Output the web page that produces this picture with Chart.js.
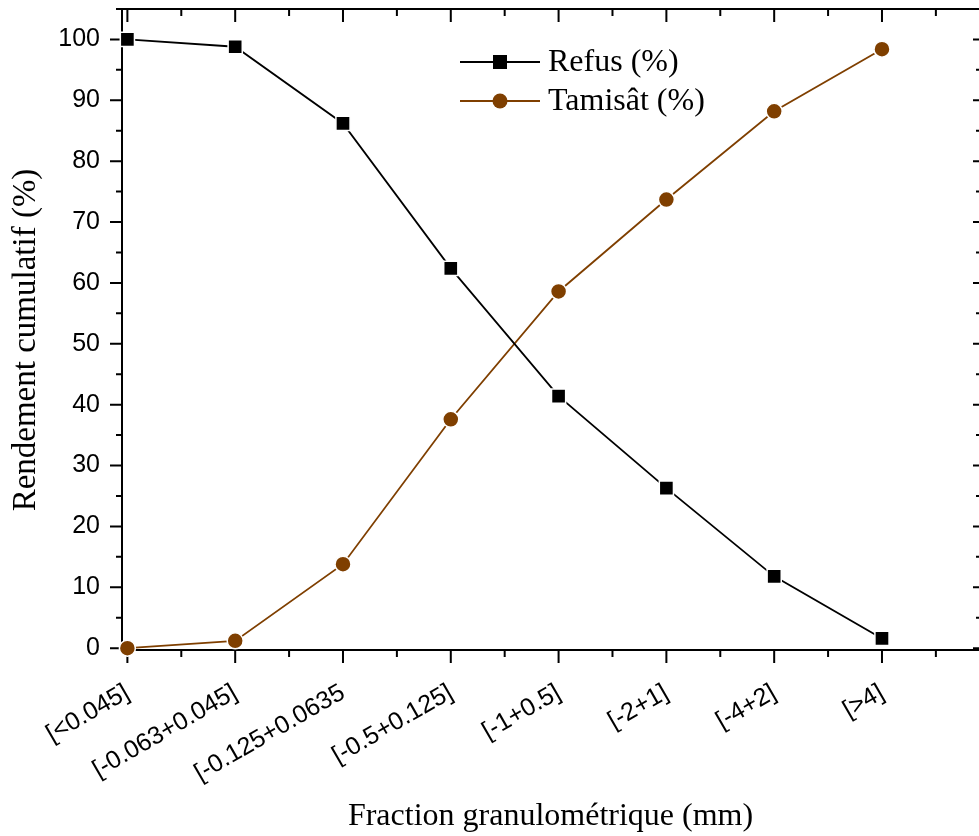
<!DOCTYPE html>
<html>
<head>
<meta charset="utf-8">
<script src="https://cdn.jsdelivr.net/npm/chart.js@4/dist/chart.umd.min.js"></script>
<style>
  body { margin: 0; background: #fff; }
</style>
</head>
<body>
<canvas id="myChart" width="979" height="836"></canvas>
<script>
// données
const categories = ['[<0.045]', '[-0.063+0.045]', '[-0.125+0.0635', '[-0.5+0.125]', '[-1+0.5]', '[-2+1]', '[-4+2]', '[>4]'];
const refus = [100, 98.8, 86.2, 62.4, 41.4, 26.3, 11.8, 1.6];
const tamisat = [0, 1.2, 13.8, 37.6, 58.6, 73.7, 88.2, 98.4];
const yTicks = [0, 10, 20, 30, 40, 50, 60, 70, 80, 90, 100];
const yMinor = [5, 15, 25, 35, 45, 55, 65, 75, 85, 95, 105];
const xMinor = [0.5, 1.5, 2.5, 3.5, 4.5, 5.5, 6.5, 7.5];

const brown = '#7f3f00';

// cadre + graduations (majeures / mineures) à la façon Origin
const axesBox = {
  id: 'axesBox',
  beforeDatasetsDraw(chart) {
    const { ctx, chartArea: a, scales: { x, y } } = chart;
    const r = a.right + 2;
    ctx.save();
    ctx.strokeStyle = '#000';
    ctx.lineWidth = 2;
    ctx.beginPath();
    ctx.moveTo(a.left, a.top); ctx.lineTo(r, a.top);
    ctx.moveTo(a.left, a.top); ctx.lineTo(a.left, a.bottom);
    ctx.moveTo(a.left, a.bottom); ctx.lineTo(r, a.bottom);
    ctx.moveTo(r, a.top); ctx.lineTo(r, a.bottom);
    // x
    categories.forEach((c, i) => {
      const px = x.getPixelForValue(i);
      ctx.moveTo(px, a.bottom); ctx.lineTo(px, a.bottom + 13);
      ctx.moveTo(px, a.top); ctx.lineTo(px, a.top + 13);
    });
    xMinor.forEach(v => {
      const px = x.getPixelForValue(v);
      ctx.moveTo(px, a.bottom); ctx.lineTo(px, a.bottom + 7);
      ctx.moveTo(px, a.top); ctx.lineTo(px, a.top + 7);
    });
    // y
    yTicks.forEach(v => {
      const py = y.getPixelForValue(v);
      ctx.moveTo(a.left, py); ctx.lineTo(a.left - 12, py);
      ctx.moveTo(r, py); ctx.lineTo(r - 8, py);
    });
    yMinor.forEach(v => {
      const py = y.getPixelForValue(v);
      if (py < a.top) return;
      ctx.moveTo(a.left, py); ctx.lineTo(a.left - 6, py);
      ctx.moveTo(r, py); ctx.lineTo(r - 5, py);
    });
    ctx.stroke();

    // titre de l'axe y
    ctx.fillStyle = '#000';
    ctx.font = '33px "Liberation Serif"';
    ctx.textAlign = 'center';
    ctx.textBaseline = 'middle';
    ctx.translate(26, 340);
    ctx.rotate(-Math.PI / 2);
    ctx.fillText('Rendement cumulatif (%)', 0, 0);
    ctx.restore();
  },
  afterDraw(chart) {
    // légende
    const { ctx } = chart;
    ctx.save();
    chart.data.datasets.forEach((ds, i) => {
      const yy = 62 + i * 39;
      ctx.strokeStyle = ds.borderColor;
      ctx.lineWidth = 2;
      ctx.beginPath();
      ctx.moveTo(460, yy); ctx.lineTo(540, yy);
      ctx.stroke();
      ctx.fillStyle = ds.pointBackgroundColor;
      if (ds.pointStyle === 'rect') {
        ctx.fillRect(493, yy - 7, 14, 14);
      } else {
        ctx.beginPath();
        ctx.arc(500, yy, 7.5, 0, Math.PI * 2);
        ctx.fill();
      }
      ctx.fillStyle = '#000';
      ctx.font = '32px "Liberation Serif"';
      ctx.textBaseline = 'middle';
      ctx.fillText(ds.label, 548, yy + 1);
    });
    ctx.restore();
  }
};

const ctx = document.getElementById('myChart');

new Chart(ctx, {
  type: 'line',
  data: {
    datasets: [
      {
        label: 'Refus (%)',
        data: refus.map((v, i) => ({ x: i, y: v })),
        borderColor: '#000',
        borderWidth: 1.8,
        pointStyle: 'rect',
        pointRadius: 10,
        pointBackgroundColor: '#000',
        pointBorderColor: '#fff',
        pointBorderWidth: 1.5,
        clip: false
      },
      {
        label: 'Tamisât (%)',
        data: tamisat.map((v, i) => ({ x: i, y: v })),
        borderColor: brown,
        borderWidth: 1.8,
        pointStyle: 'circle',
        pointRadius: 8,
        pointBackgroundColor: brown,
        pointBorderColor: '#fff',
        pointBorderWidth: 1.5,
        clip: false
      }
    ]
  },
  options: {
    responsive: false,
    animation: false,
    layout: { autoPadding: false, padding: { top: 9, right: 0, left: 0, bottom: 0 } },
    plugins: {
      legend: { display: false },
      tooltip: { enabled: false }
    },
    scales: {
      x: {
        type: 'linear',
        min: -0.05,
        max: 7.9,
        grid: { display: false, drawTicks: false },
        border: { display: false },
        afterBuildTicks: s => { s.ticks = categories.map((c, i) => ({ value: i })); },
        afterFit: s => { s.height = 186; s.paddingLeft = 0; s.paddingRight = 0; },
        ticks: {
          autoSkip: false,
          minRotation: 30,
          maxRotation: 30,
          padding: 28,
          color: '#000',
          font: { family: '"Liberation Sans"', size: 25 },
          callback: v => categories[v]
        },
        title: {
          display: true,
          text: 'Fraction granulométrique (mm)',
          color: '#000',
          font: { family: '"Liberation Serif"', size: 32 },
          padding: { top: 0, bottom: 0 }
        }
      },
      y: {
        min: -0.3,
        max: 105,
        grid: { display: false, drawTicks: false },
        border: { display: false },
        afterBuildTicks: s => { s.ticks = yTicks.map(v => ({ value: v })); },
        afterFit: s => { s.width = 122; s.paddingTop = 0; s.paddingBottom = 0; },
        ticks: {
          padding: 22,
          color: '#000',
          font: { family: '"Liberation Sans"', size: 25 }
        }
      }
    }
  },
  plugins: [axesBox]
});
</script>
</body>
</html>
